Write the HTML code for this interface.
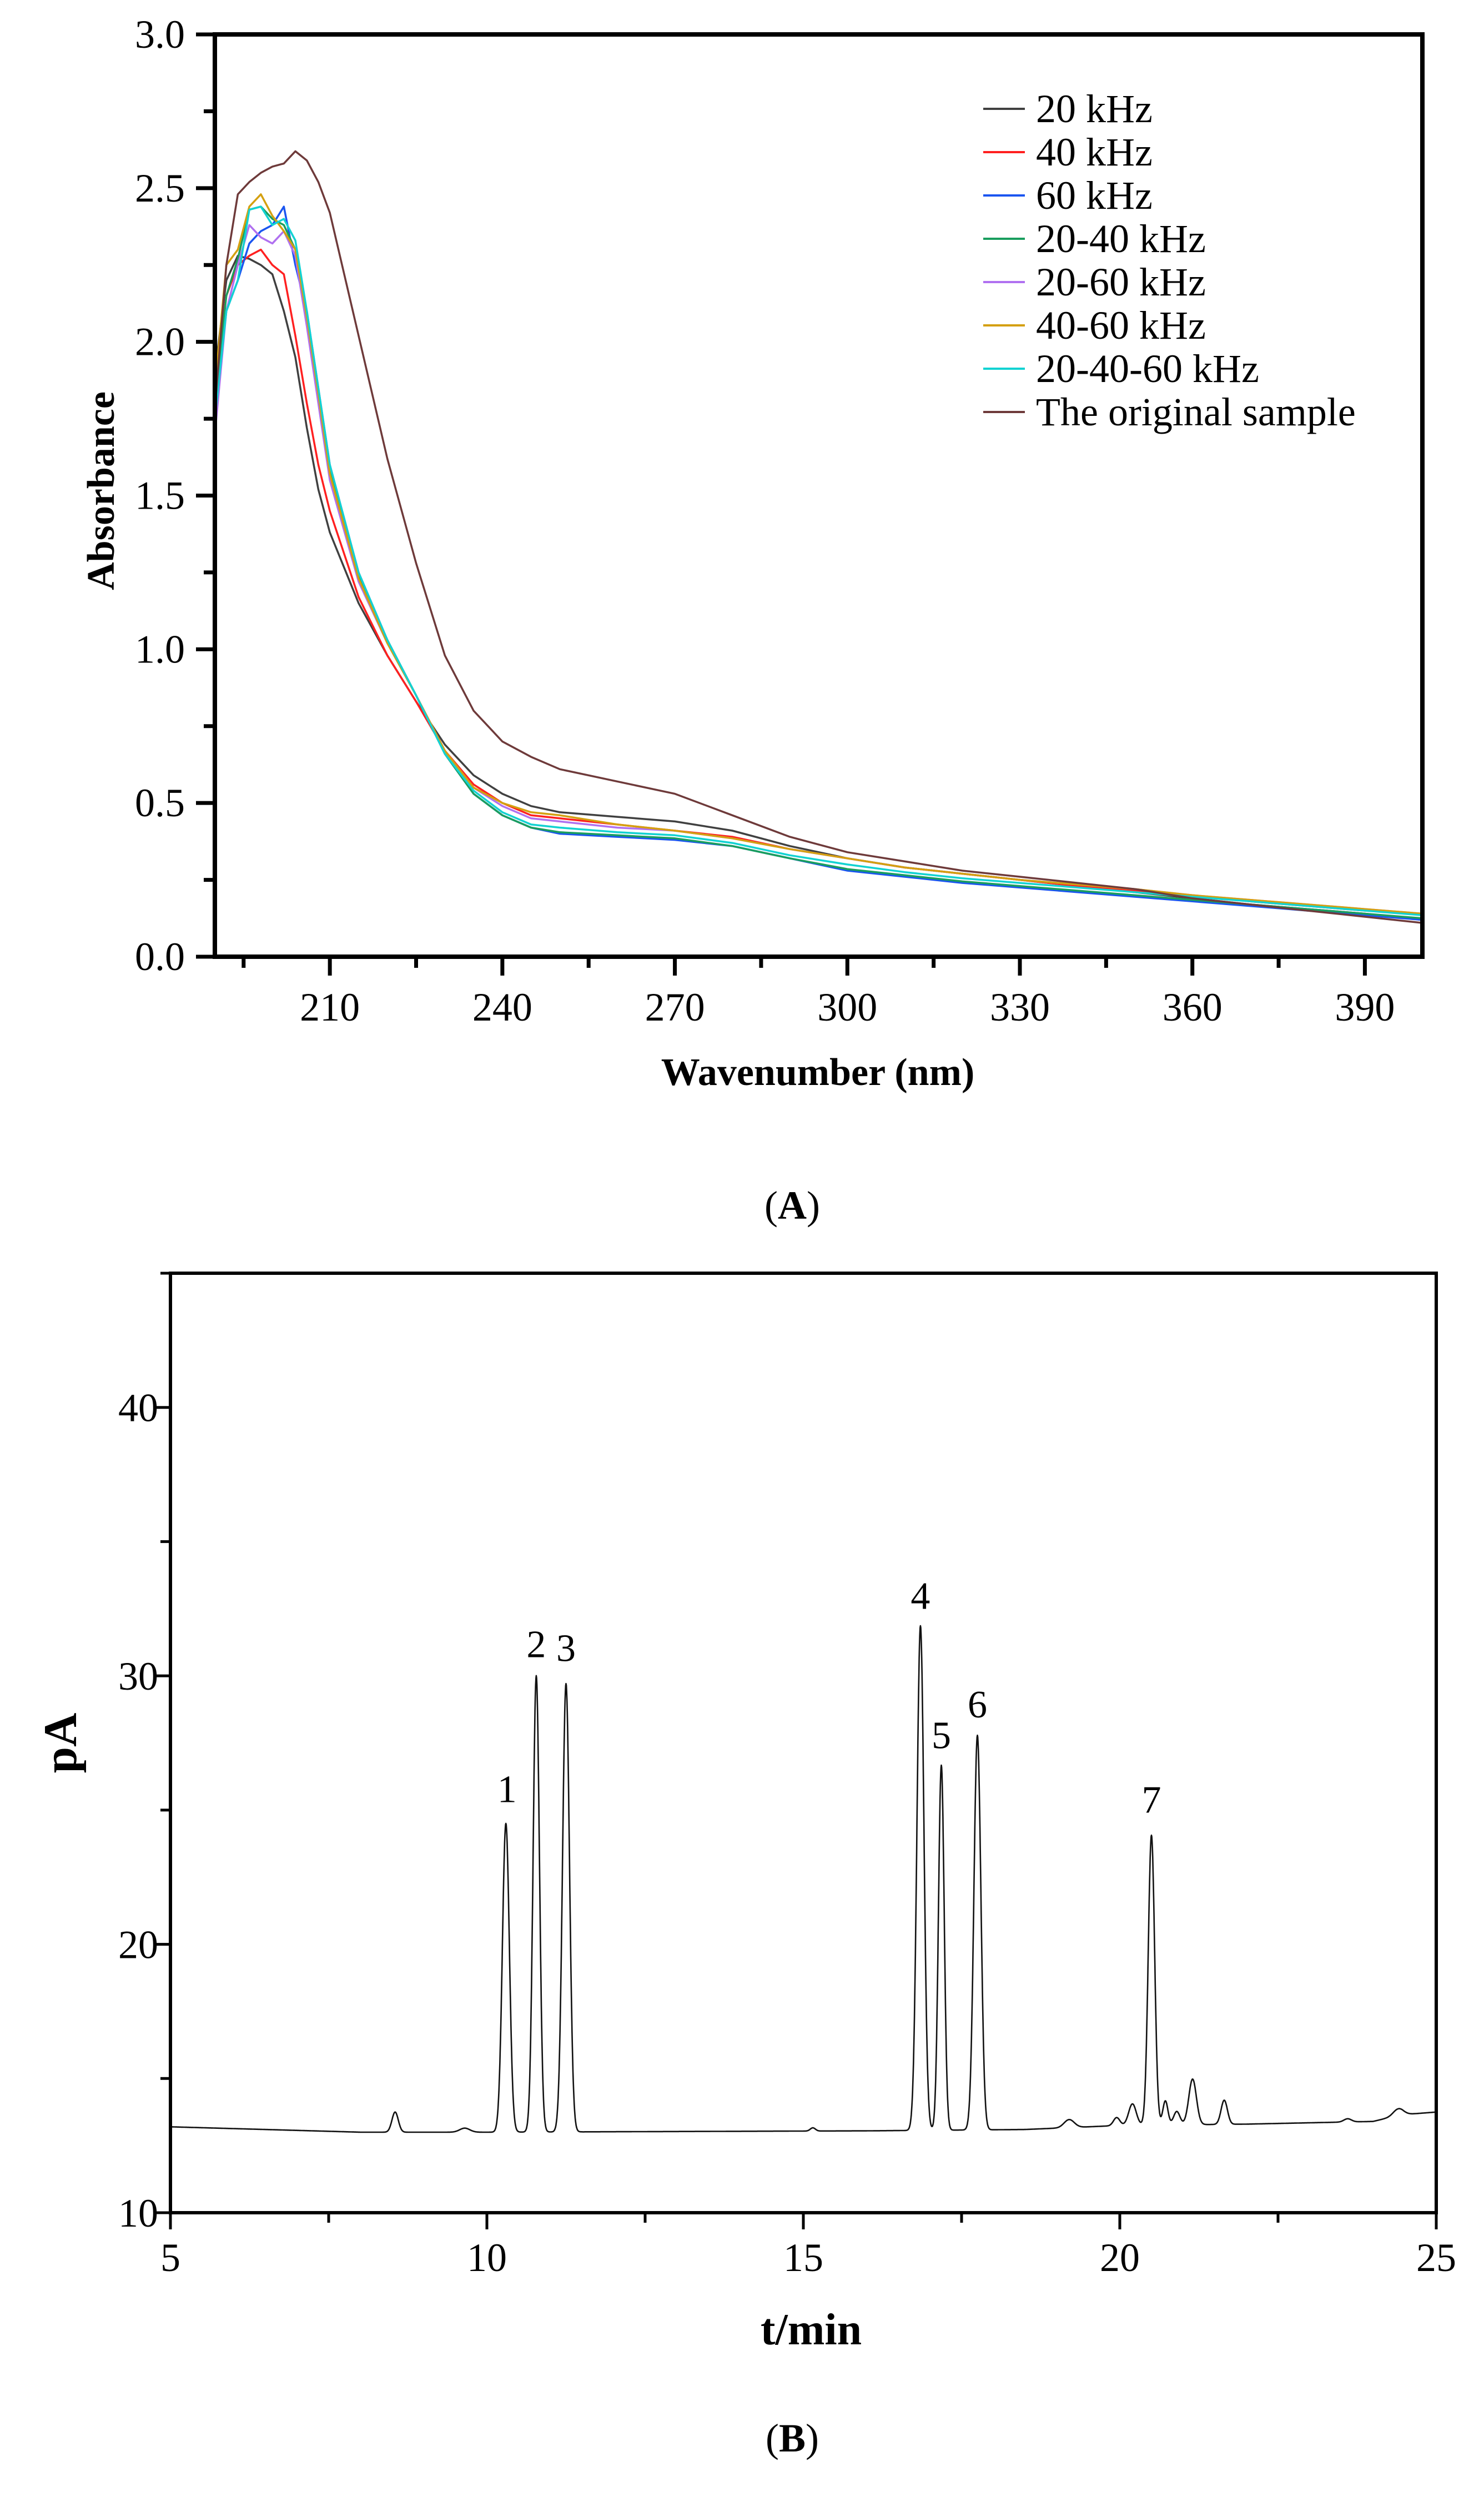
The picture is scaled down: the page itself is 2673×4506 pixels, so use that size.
<!DOCTYPE html>
<html><head><meta charset="utf-8">
<style>
html,body{margin:0;padding:0;background:#fff;}
svg{display:block;}
svg text{font-family:"Liberation Serif","Times New Roman",serif;}
</style></head>
<body>
<svg id="fig" width="2673" height="4506" viewBox="0 0 2673 4506" xmlns="http://www.w3.org/2000/svg" font-family="Liberation Serif, serif">
<rect width="2673" height="4506" fill="#fff"/>
<g id="chartA"></g>
<g id="chartB"></g>
<text x="1427" y="2195" font-size="72" text-anchor="middle">(<tspan font-weight="bold">A</tspan>)</text>
<text x="1427" y="4415" font-size="72" text-anchor="middle">(<tspan font-weight="bold">B</tspan>)</text>
</svg>
<script>
// ---- Chart A data ----
const wavelengths = [190,192,194,196,198,200,202,204,206,208,210,215,220,225,230,235,240,245,250,260,270,280,290,300,310,320,330,340,350,360,370,380,390,400];
const seriesNames = ["20 kHz","40 kHz","60 kHz","20-40 kHz","20-60 kHz","40-60 kHz","20-40-60 kHz","The original sample"];
const s20 = [1.9,2.2,2.28,2.27,2.25,2.22,2.1,1.95,1.72,1.52,1.38,1.15,0.98,0.83,0.69,0.59,0.53,0.49,0.47,0.455,0.44,0.41,0.36,0.32,0.29,0.27,0.25,0.23,0.21,0.19,0.17,0.155,0.14,0.12];
const s40 = [1.85,2.15,2.25,2.28,2.3,2.25,2.22,2.02,1.8,1.6,1.45,1.17,0.98,0.83,0.67,0.56,0.5,0.46,0.45,0.43,0.41,0.39,0.35,0.32,0.29,0.27,0.25,0.23,0.215,0.2,0.18,0.165,0.15,0.14];
const s60 = [1.75,2.1,2.2,2.32,2.36,2.38,2.44,2.25,2.1,1.85,1.6,1.25,1.03,0.85,0.66,0.53,0.46,0.42,0.40,0.39,0.38,0.36,0.32,0.28,0.26,0.24,0.225,0.21,0.195,0.18,0.165,0.15,0.135,0.12];
const s2040 = [1.8,2.15,2.27,2.43,2.44,2.4,2.38,2.3,2.08,1.83,1.58,1.24,1.03,0.85,0.66,0.53,0.46,0.42,0.405,0.395,0.385,0.36,0.32,0.285,0.265,0.245,0.23,0.215,0.2,0.185,0.17,0.155,0.14,0.125];
const s2060 = [1.7,2.1,2.25,2.38,2.34,2.32,2.36,2.28,2.05,1.8,1.55,1.22,1.02,0.85,0.67,0.55,0.49,0.45,0.44,0.42,0.41,0.385,0.35,0.32,0.29,0.27,0.25,0.235,0.22,0.2,0.185,0.17,0.155,0.14];
const s4060 = [1.85,2.25,2.3,2.44,2.48,2.41,2.36,2.3,2.08,1.83,1.57,1.23,1.02,0.85,0.67,0.55,0.5,0.47,0.46,0.43,0.41,0.385,0.35,0.32,0.29,0.27,0.25,0.235,0.22,0.2,0.185,0.17,0.155,0.14];
const s204060 = [1.75,2.1,2.2,2.43,2.44,2.38,2.4,2.33,2.1,1.85,1.6,1.25,1.03,0.85,0.66,0.54,0.47,0.43,0.42,0.405,0.395,0.37,0.33,0.3,0.275,0.255,0.24,0.225,0.21,0.195,0.18,0.165,0.15,0.135];
const sOrig = [1.78,2.25,2.48,2.52,2.55,2.57,2.58,2.62,2.59,2.52,2.42,2.02,1.62,1.28,0.98,0.8,0.7,0.65,0.61,0.57,0.53,0.46,0.39,0.34,0.31,0.28,0.26,0.24,0.22,0.19,0.17,0.15,0.13,0.11];
const aXTicks = [210,240,270,300,330,360,390];
const aYTicks = ["0.0","0.5","1.0","1.5","2.0","2.5","3.0"];

// ---- Chart B data ----
const peakTimes   = [8.55,9.65,10.3,10.78,11.25,15.15,16.85,17.18,17.75,19.2,19.95,20.2,20.5,20.72,20.9,21.15,21.65,23.6,24.4];
const peakHeights = [0.75,0.15,11.5,17.0,16.7,0.12,18.8,13.6,14.7,0.3,0.3,0.8,10.8,0.9,0.5,1.7,0.9,0.12,0.25];
const peakWidths  = [0.05,0.08,0.055,0.05,0.055,0.04,0.055,0.045,0.055,0.08,0.05,0.06,0.05,0.04,0.05,0.06,0.05,0.06,0.08];
const baseTimes   = [5,8,10,16,18.5,20,22,24,24.45,25];
const baseValues  = [13.2,13.0,13.0,13.05,13.1,13.25,13.3,13.4,13.65,13.75];
const peakLabels  = ["1","2","3","4","5","6","7"];
const peakLabelT  = [10.3,10.78,11.25,16.85,17.18,17.75,20.5];
const peakLabelV  = [25.3,30.7,30.55,32.5,27.3,28.45,24.9];
const bXTicks = [5,10,15,20,25];
const bYTicks = [10,20,30,40];

const NS="http://www.w3.org/2000/svg";
function mk(parent,tag,attrs){const e=document.createElementNS(NS,tag);for(const k in attrs)e.setAttribute(k,attrs[k]);parent.appendChild(e);return e;}

// ===== Chart A =====
(function(){
const g=document.getElementById('chartA');
const L=387,R=2562,T=62,B=1723;
const xA=v=>L+(v-190)/(400-190)*(R-L);
const yA=v=>B-v/3*(B-T);
const colors=["#404040","#ff2020","#1a55f0","#1a9e5e","#b070f0","#d4a010","#12d2d2","#6e3a3a"];
const series=[s20,s40,s60,s2040,s2060,s4060,s204060,sOrig];
const names=["series-20khz","series-40khz","series-60khz","series-20-40khz","series-20-60khz","series-40-60khz","series-20-40-60khz","series-original-sample"];
series.forEach((s,i)=>{
  const d=s.map((v,j)=>(j?'L':'M')+xA(wavelengths[j]).toFixed(1)+' '+yA(v).toFixed(1)).join(' ');
  const p=mk(g,'path',{d:d,fill:'none',stroke:colors[i],'stroke-width':3.5,'stroke-linejoin':'round'});
  
  
});
const fr=mk(g,'rect',{x:L,y:T,width:R-L,height:B-T,fill:'none',stroke:'#000','stroke-width':8});


for(let v=195;v<=400;v+=15){
  const major=aXTicks.includes(v);
  const t=mk(g,'line',{x1:xA(v),x2:xA(v),y1:B,y2:B+(major?34:20),stroke:'#000','stroke-width':7});
  
  
}
aXTicks.forEach(v=>{
  const t=mk(g,'text',{x:xA(v),y:1838,'font-size':72,'text-anchor':'middle'});t.textContent=v;
  
  
});
for(let v=0;v<=3.001;v+=0.25){
  const major=Math.abs(v*2-Math.round(v*2))<1e-6;
  const t=mk(g,'line',{x1:L,x2:L-(major?34:20),y1:yA(v),y2:yA(v),stroke:'#000','stroke-width':7});
  
  
}
aYTicks.forEach(s=>{
  const t=mk(g,'text',{x:333,y:yA(parseFloat(s))+24,'font-size':72,'text-anchor':'end'});t.textContent=s;
  
  
});
const xt=mk(g,'text',{x:1473,y:1954,'font-size':70,'font-weight':'bold','text-anchor':'middle'});xt.textContent='Wavenumber (nm)';


const yt=mk(g,'text',{x:0,y:0,'font-size':70,'font-weight':'bold','text-anchor':'middle',transform:'translate(205,884) rotate(-90)'});yt.textContent='Absorbance';


seriesNames.forEach((n,i)=>{
  const y=196+i*78.0;
  const l=mk(g,'line',{x1:1771,x2:1846,y1:y,y2:y,stroke:colors[i],'stroke-width':4});
  
  
  const t=mk(g,'text',{x:1866,y:y+24,'font-size':72});t.textContent=n;
  
  
});
})();

// ===== Chart B =====
(function(){
const g=document.getElementById('chartB');
const L=307,R=2587,T=2293,B=3985;
const xB=v=>L+(v-5)/20*(R-L);
const yB=v=>B-(v-10)/35*(B-T);
function base(t){for(let i=0;i<baseTimes.length-1;i++){if(t<=baseTimes[i+1]){const f=(t-baseTimes[i])/(baseTimes[i+1]-baseTimes[i]);return baseValues[i]+f*(baseValues[i+1]-baseValues[i]);}}return baseValues[baseValues.length-1];}
let d='';
for(let k=0;k<=4000;k++){
  const t=5+k*0.005;
  let v=base(t);
  for(let j=0;j<peakTimes.length;j++){const z=(t-peakTimes[j])/peakWidths[j];if(Math.abs(z)<8)v+=peakHeights[j]*Math.exp(-0.5*z*z);}
  d+=(k?'L':'M')+xB(t).toFixed(1)+' '+yB(v).toFixed(1);
}
const p=mk(g,'path',{d:d,fill:'none',stroke:'#111','stroke-width':2.6,'stroke-linejoin':'round'});


const fr=mk(g,'rect',{x:L,y:T,width:R-L,height:B-T,fill:'none',stroke:'#000','stroke-width':6});


for(let v=5;v<=25;v+=2.5){
  const major=Number.isInteger(v/5);
  const t=mk(g,'line',{x1:xB(v),x2:xB(v),y1:B,y2:B+(major?30:18),stroke:'#000','stroke-width':5});
  
  
}
bXTicks.forEach(v=>{
  const t=mk(g,'text',{x:xB(v),y:4090,'font-size':72,'text-anchor':'middle'});t.textContent=v;
  
  
});
for(let v=10;v<=45;v+=5){
  const major=v%10===0;
  const t=mk(g,'line',{x1:L,x2:L-(major?30:18),y1:yB(v),y2:yB(v),stroke:'#000','stroke-width':5});
  
  
}
bYTicks.forEach(v=>{
  const t=mk(g,'text',{x:285,y:yB(v)+25,'font-size':72,'text-anchor':'end'});t.textContent=v;
  
  
});
peakLabels.forEach((s,i)=>{
  const t=mk(g,'text',{x:xB(peakLabelT[i])-(i===0?-2:0),y:yB(peakLabelV[i]),'font-size':70,'text-anchor':'middle'});t.textContent=s;
  
  
});
const xt=mk(g,'text',{x:1461,y:4222,'font-size':80,'font-weight':'bold','text-anchor':'middle'});xt.textContent='t/min';


const yt=mk(g,'text',{x:0,y:0,'font-size':85,'font-weight':'bold','text-anchor':'middle',transform:'translate(137,3139) rotate(-90)'});yt.textContent='pA';


})();
</script>
</body></html>
